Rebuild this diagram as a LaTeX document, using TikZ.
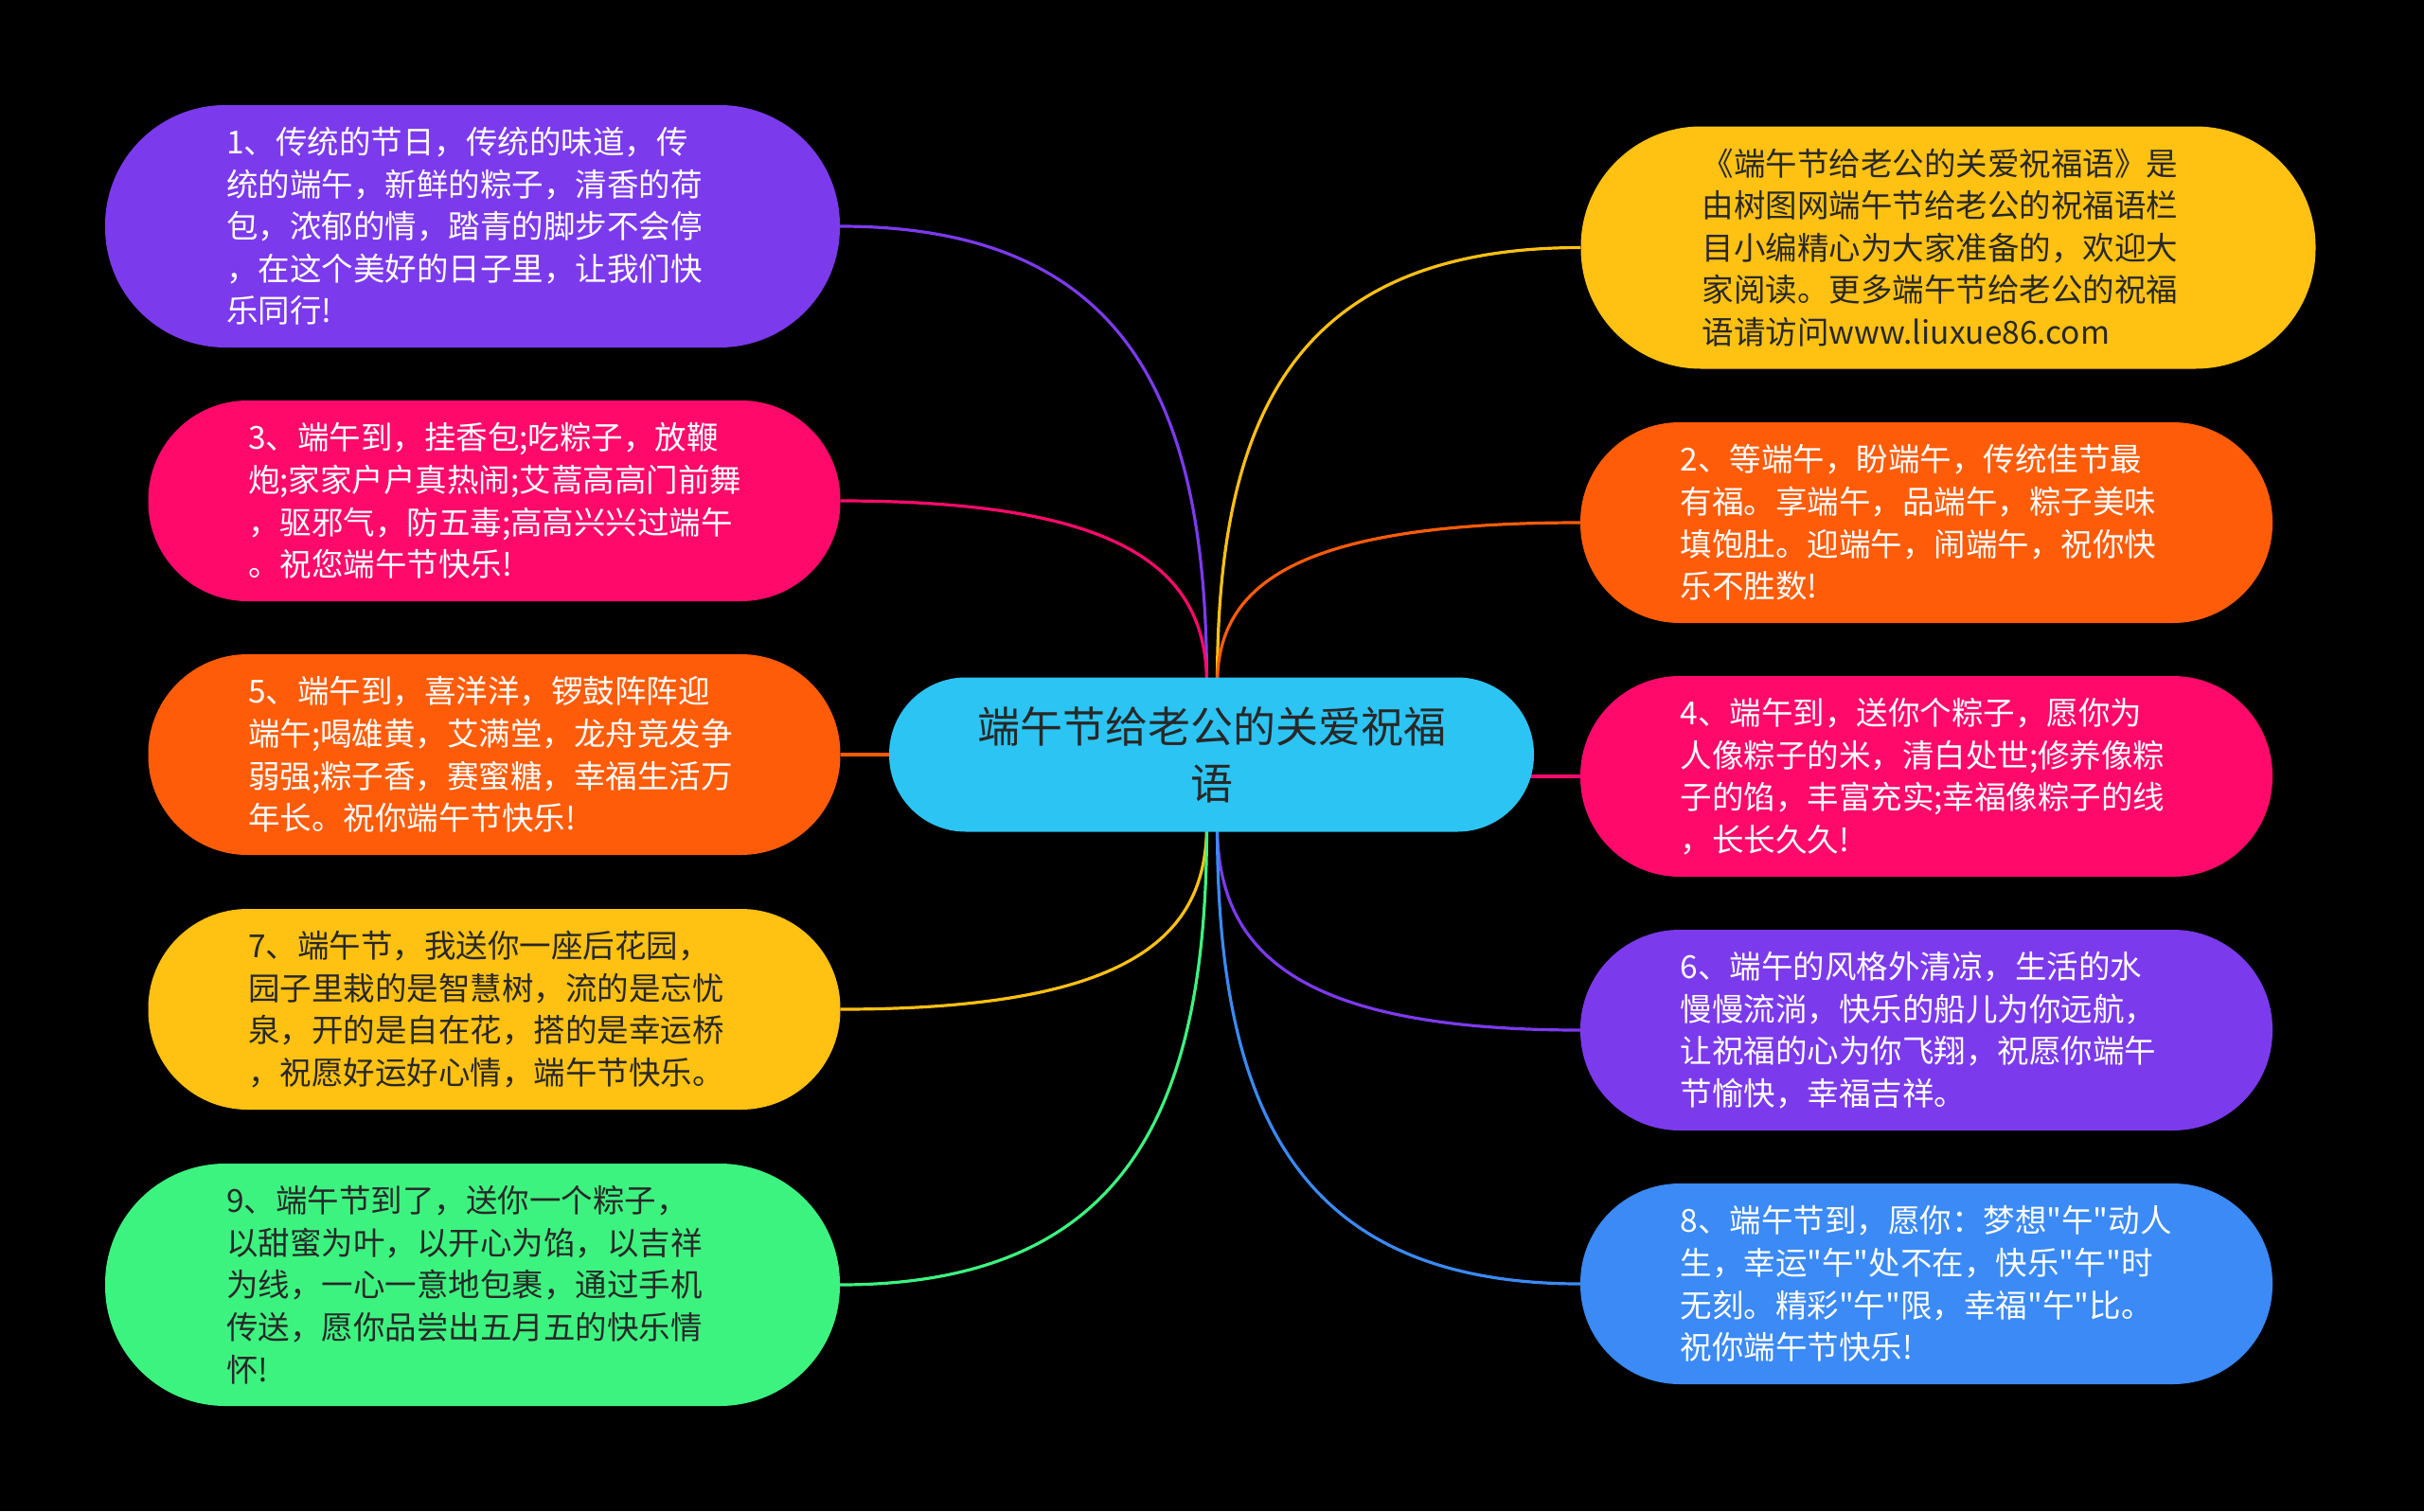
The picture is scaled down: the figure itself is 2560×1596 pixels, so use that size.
\documentclass[tikz,border=0pt]{standalone}
\usepackage{fontspec}
\newfontfamily\cjk{Noto Sans CJK SC}
\usetikzlibrary{calc}
\pgfdeclarelayer{bg}
\pgfsetlayers{bg,main}
\definecolor{cpurple}{RGB}{124,58,237}
\definecolor{cpink}{RGB}{255,10,107}
\definecolor{corange}{RGB}{255,92,10}
\definecolor{cyellow}{RGB}{255,193,18}
\definecolor{cgreen}{RGB}{61,243,128}
\definecolor{cblue}{RGB}{59,138,245}
\definecolor{ccyan}{RGB}{44,196,243}
\definecolor{darktext}{RGB}{40,40,40}
\newcommand\mmconn[3]{%
  \draw[conn,#1] (#2) .. controls ($(#2)!0.8!(#2 -| #3)$) and ($(#3)!0.6!(#3 |- #2)$) .. (#3);}
\begin{document}
\begin{tikzpicture}[x=1pt,y=-1pt,
  box/.style={rectangle, inner sep=0pt, align=left, text width=520pt,
    font=\cjk\fontsize{33.5}{44.6}\selectfont},
  bigbox/.style={box, minimum width=776pt, minimum height=256pt, rounded corners=127pt},
  smallbox/.style={box, minimum width=731pt, minimum height=212pt, rounded corners=105pt},
  conn/.style={line width=3.2pt},
]
\useasboundingbox (0,0) rectangle (2560,1596);

% center
\node[rectangle, fill=ccyan, text=darktext, minimum width=681pt, minimum height=163pt,
  rounded corners=81pt, align=center, text width=620pt, inner sep=0pt,
  font=\cjk\fontsize{45}{60}\selectfont] (c) at (1279.5,797) {端午节给老公的关爱祝福\\语};

% left
\node[bigbox, fill=cpurple, text=white] (n1) at (499,239)
  {1、传统的节日，传统的味道，传\\统的端午，新鲜的粽子，清香的荷\\包，浓郁的情，踏青的脚步不会停\\，在这个美好的日子里，让我们快\\乐同行!};
\node[smallbox, fill=cpink, text=white] (n3) at (522,529)
  {3、端午到，挂香包;吃粽子，放鞭\\炮;家家户户真热闹;艾蒿高高门前舞\\，驱邪气，防五毒;高高兴兴过端午\\。祝您端午节快乐!};
\node[smallbox, fill=corange, text=white] (n5) at (522,797)
  {5、端午到，喜洋洋，锣鼓阵阵迎\\端午;喝雄黄，艾满堂，龙舟竞发争\\弱强;粽子香，赛蜜糖，幸福生活万\\年长。祝你端午节快乐!};
\node[smallbox, fill=cyellow, text=darktext] (n7) at (522,1066)
  {7、端午节，我送你一座后花园，\\园子里栽的是智慧树，流的是忘忧\\泉，开的是自在花，搭的是幸运桥\\，祝愿好运好心情，端午节快乐。};
\node[bigbox, fill=cgreen, text=darktext] (n9) at (499,1357)
  {9、端午节到了，送你一个粽子，\\以甜蜜为叶，以开心为馅，以吉祥\\为线，一心一意地包裹，通过手机\\传送，愿你品尝出五月五的快乐情\\怀!};

% right
\node[bigbox, fill=cyellow, text=darktext] (n0) at (2057.5,261.5)
  {《端午节给老公的关爱祝福语》是\\由树图网端午节给老公的祝福语栏\\目小编精心为大家准备的，欢迎大\\家阅读。更多端午节给老公的祝福\\语请访问www.liuxue86.com};
\node[smallbox, fill=corange, text=white] (n2) at (2034.5,552)
  {2、等端午，盼端午，传统佳节最\\有福。享端午，品端午，粽子美味\\填饱肚。迎端午，闹端午，祝你快\\乐不胜数!};
\node[smallbox, fill=cpink, text=white] (n4) at (2034.5,820)
  {4、端午到，送你个粽子，愿你为\\人像粽子的米，清白处世;修养像粽\\子的馅，丰富充实;幸福像粽子的线\\，长长久久!};
\node[smallbox, fill=cpurple, text=white] (n6) at (2034.5,1088)
  {6、端午的风格外清凉，生活的水\\慢慢流淌，快乐的船儿为你远航，\\让祝福的心为你飞翔，祝愿你端午\\节愉快，幸福吉祥。};
\node[smallbox, fill=cblue, text=white] (n8) at (2034.5,1356)
  {8、端午节到，愿你：梦想"午"动人\\生，幸运"午"处不在，快乐"午"时\\无刻。精彩"午"限，幸福"午"比。\\祝你端午节快乐!};

\coordinate (ctl) at ($(c.north)+(-5,8)$);
\coordinate (ctr) at ($(c.north)+(6,8)$);
\coordinate (cbl) at ($(c.south)+(-5,-8)$);
\coordinate (cbr) at ($(c.south)+(6,-8)$);

\begin{pgfonlayer}{bg}
\fill[black] (0,0) rectangle (2560,1596);
\mmconn{cpurple}{n1.east}{ctl}
\mmconn{cpink}{n3.east}{ctl}
\draw[conn,corange] (n5.east) -- (c.center);
\mmconn{cyellow}{n7.east}{cbl}
\mmconn{cgreen}{n9.east}{cbl}
\mmconn{cyellow}{n0.west}{ctr}
\mmconn{corange}{n2.west}{ctr}
\draw[conn,cpink] (n4.west) -- (n4.west -| c.center);
\mmconn{cpurple}{n6.west}{cbr}
\mmconn{cblue}{n8.west}{cbr}
\end{pgfonlayer}
\end{tikzpicture}
\end{document}
